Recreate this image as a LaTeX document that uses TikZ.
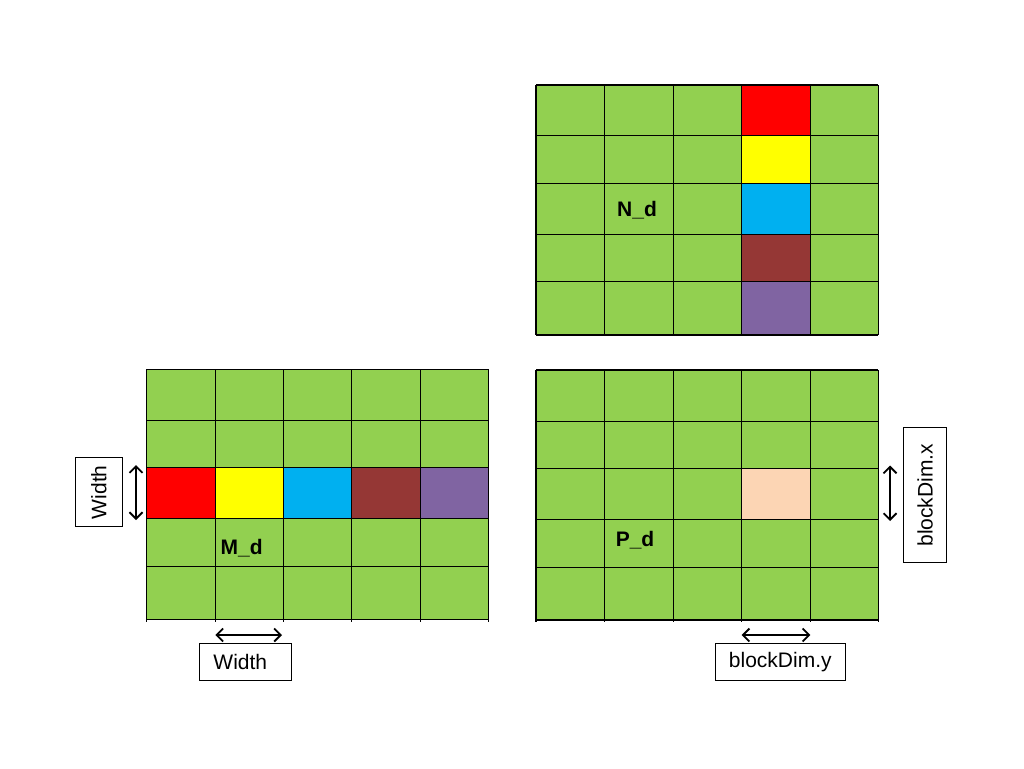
\documentclass[tikz,border=0pt]{standalone}
\usepackage{fontspec}
\setmainfont{Liberation Sans}
\usetikzlibrary{arrows.meta}
\definecolor{cgreen}{HTML}{92D050}
\definecolor{cred}{HTML}{FF0000}
\definecolor{cyellow}{HTML}{FFFF00}
\definecolor{cblue}{HTML}{00B0F0}
\definecolor{cbrown}{HTML}{953735}
\definecolor{cpurple}{HTML}{8064A2}
\definecolor{cpeach}{HTML}{FCD5B4}
\begin{document}
\begin{tikzpicture}[x=1pt,y=-1pt,
  gridline/.style={black, line width=1.1pt},
  dim/.style={{Straight Barb[length=6.5pt,width=13pt]}-{Straight Barb[length=6.5pt,width=13pt]}, line width=1.8pt},
  lbl/.style={draw, line width=1pt, fill=white, inner sep=0pt, font=\fontsize{21}{25}\selectfont},
  gname/.style={inner sep=0pt, font=\bfseries\fontsize{21}{25}\selectfont}]
\useasboundingbox[fill=white] (0,0) rectangle (1024,768);

% ---- M_d grid ----
\fill[cgreen] (146.7,369.3) rectangle (488.3,619.3);
\fill[cred]    (146.7,467.7) rectangle (215.3,518.3);
\fill[cyellow] (215.3,467.7) rectangle (283.3,518.3);
\fill[cblue]   (283.3,467.7) rectangle (351.7,518.3);
\fill[cbrown]  (351.7,467.7) rectangle (420.3,518.3);
\fill[cpurple] (420.3,467.7) rectangle (488.3,518.3);
\foreach \x in {146.7,215.3,283.3,351.7,420.3,488.3}
  \draw[gridline] (\x,369.3) -- (\x,621.5);
\foreach \y in {369.3,420.7,467.7,518.3,566.3,619.3}
  \draw[gridline] (146.7,\y) -- (488.3,\y);
\node[gname] (md) at (241.7,548.3) {M\_d};

% ---- N_d grid ----
\fill[cgreen] (536,85) rectangle (878.3,335);
\fill[cred]    (741.7,85)    rectangle (810.3,135.3);
\fill[cyellow] (741.7,135.3) rectangle (810.3,183.3);
\fill[cblue]   (741.7,183.3) rectangle (810.3,234.3);
\fill[cbrown]  (741.7,234.3) rectangle (810.3,281.3);
\fill[cpurple] (741.7,281.3) rectangle (810.3,335);
\foreach \x in {536,604.3,673.3,741.7,810.3,878.3}
  \draw[gridline] (\x,85) -- (\x,335);
\foreach \y in {85,135.3,183.3,234.3,281.3,335}
  \draw[gridline] (536,\y) -- (878.3,\y);
\node[gname] (nd) at (637,210) {N\_d};

% ---- P_d grid ----
\fill[cgreen] (536,370) rectangle (878.3,620);
\fill[cpeach] (741.7,468.3) rectangle (810.3,519.3);
\foreach \x in {536,604.3,673.3,741.7,810.3,878.3}
  \draw[gridline] (\x,370) -- (\x,622);
\foreach \y in {370,421.3,468.3,519.3,567.3,620}
  \draw[gridline] (536,\y) -- (878.3,\y);
\node[gname] (pd) at (635,540) {P\_d};

% ---- dimension labels ----
\node[lbl, rotate=90, minimum width=69pt, minimum height=47pt] (wleft) at (98.8,492.2) {Width};
\node[lbl, minimum width=92pt, minimum height=36.3pt] (wbot) at (245.3,661.9) {\hspace*{-10pt}Width};
\node[lbl, rotate=90, minimum width=135.3pt, minimum height=42.6pt] (bdx) at (925,495.3) {blockDim.x};
\node[lbl, minimum width=130pt, minimum height=37.3pt] (bdy) at (780.3,662.3) {blockDim.y};

% ---- dimension arrows ----
\coordinate (wa1) at (136,465);
\coordinate (wa2) at (136,520);
\draw[dim] (wa1) -- (wa2);
\coordinate (wb1) at (215.3,635);
\coordinate (wb2) at (282,635);
\draw[dim] (wb1) -- (wb2);
\coordinate (xa1) at (890,465.5);
\coordinate (xa2) at (890,521);
\draw[dim] (xa1) -- (xa2);
\coordinate (ya1) at (741.7,635);
\coordinate (ya2) at (810.3,635);
\draw[dim] (ya1) -- (ya2);
\end{tikzpicture}
\end{document}
